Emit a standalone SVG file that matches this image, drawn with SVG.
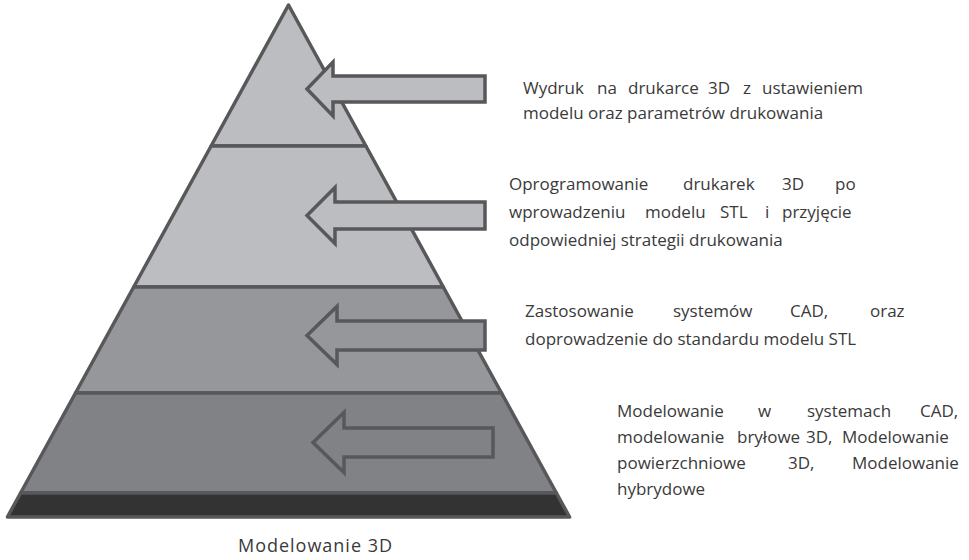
<svg xmlns="http://www.w3.org/2000/svg" width="969" height="560" viewBox="0 0 969 560">
<style>
.lay{stroke:#58585b;stroke-width:3.5;stroke-linejoin:round}
.arr{stroke:#58585b;stroke-width:3.5;stroke-linejoin:miter}
.l1{fill:#bcbdc1}.l3{fill:#96979b}.l4{fill:#818286}.band{fill:#333333}
text{font-family:"Open Sans","DejaVu Sans",sans-serif;font-size:17px;fill:#3a3a3a}
</style>
<rect width="969" height="560" fill="#ffffff"/>
<g id="pyramid">
<g id="layer1"><polygon class="lay l1" points="288.5,5 365.9,146 211.1,146"/></g>
<g id="layer2"><polygon class="lay l1" points="211.1,146 365.9,146 443.3,287 133.7,287"/></g>
<g id="layer3"><polygon class="lay l3" points="133.7,287 443.3,287 501.5,393 75.5,393"/></g>
<g id="layer4"><polygon class="lay l4" points="75.5,393 501.5,393 556.4,493 20.6,493"/></g>
<g id="base"><polygon class="lay band" points="20.6,493 556.4,493 569.6,517 7.4,517"/></g>
</g>
<g id="connectors">
<polygon class="arr l1" points="307,89 333,62 333,76 485,76 485,102 333,102 333,116"/>
<polygon class="arr l1" points="307,215.5 335,187.5 335,202 485,202 485,229 335,229 335,243.5"/>
<polygon class="arr l3" points="307,335.5 337,306.5 337,321 485,321 485,350 337,350 337,364.5"/>
<polygon class="arr l4" points="313,442.5 344,412.5 344,428 493,428 493,457 344,457 344,472.5"/>
</g>
<g id="text1">
<text y="94"><tspan x="523">Wydruk</tspan><tspan x="597">na</tspan><tspan x="628">drukarce</tspan><tspan x="708">3D</tspan><tspan x="743">z</tspan><tspan x="762">ustawieniem</tspan></text>
<text x="523" y="119">modelu oraz parametrów drukowania</text>
</g>
<g id="text2">
<text y="190"><tspan x="509">Oprogramowanie</tspan><tspan x="683">drukarek</tspan><tspan x="782">3D</tspan><tspan x="835">po</tspan></text>
<text y="218"><tspan x="509">wprowadzeniu</tspan><tspan x="645">modelu</tspan><tspan x="720">STL</tspan><tspan x="765">i</tspan><tspan x="782">przyjęcie</tspan></text>
<text x="509" y="246">odpowiedniej strategii drukowania</text>
</g>
<g id="text3">
<text y="317"><tspan x="525">Zastosowanie</tspan><tspan x="673">systemów</tspan><tspan x="790">CAD,</tspan><tspan x="870">oraz</tspan></text>
<text x="525" y="345">doprowadzenie do standardu modelu STL</text>
</g>
<g id="text4">
<text y="417"><tspan x="617">Modelowanie</tspan><tspan x="758">w</tspan><tspan x="807">systemach</tspan><tspan x="920">CAD,</tspan></text>
<text y="443"><tspan x="617">modelowanie</tspan><tspan x="737">bryłowe</tspan><tspan x="806">3D,</tspan><tspan x="842">Modelowanie</tspan></text>
<text y="469"><tspan x="617">powierzchniowe</tspan><tspan x="788">3D,</tspan><tspan x="852">Modelowanie</tspan></text>
<text x="617" y="495">hybrydowe</text>
</g>
<g id="label">
<text x="238" y="552" style="font-size:18px" textLength="154" lengthAdjust="spacing">Modelowanie 3D</text>
</g>
</svg>
